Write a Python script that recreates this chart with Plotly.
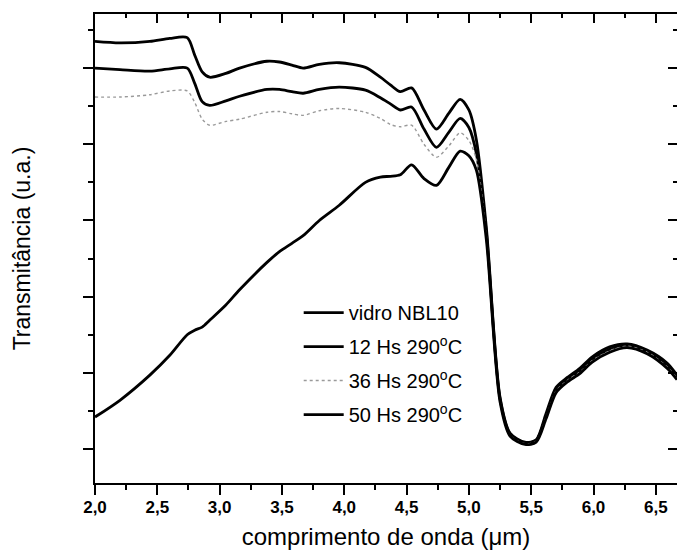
import plotly.graph_objects as go

# wavelength (µm)
wavelength = [2.00, 2.20, 2.44, 2.60, 2.74, 2.80, 2.86, 2.92, 3.05, 3.16, 3.38, 3.48, 3.58, 3.67,
              3.80, 3.96, 4.17, 4.29, 4.37, 4.45, 4.54, 4.64, 4.74, 4.84, 4.93, 5.00, 5.06, 5.14,
              5.25, 5.33, 5.45, 5.54, 5.62, 5.70, 5.79, 5.89, 5.99, 6.13, 6.27, 6.43, 6.59, 6.67]

vidro_nbl10 = [5.35, 5.33, 5.35, 5.39, 5.40, 5.17, 4.95, 4.88, 4.93, 5.00, 5.09, 5.08, 5.04, 5.00,
               5.05, 5.07, 5.01, 4.88, 4.78, 4.69, 4.74, 4.45, 4.20, 4.41, 4.59, 4.45, 4.06, 2.91,
               0.68, 0.21, 0.09, 0.12, 0.47, 0.81, 0.94, 1.06, 1.21, 1.34, 1.38, 1.30, 1.13, 0.97]

h12 = [5.00, 4.98, 4.96, 4.99, 5.00, 4.80, 4.56, 4.51, 4.57, 4.63, 4.72, 4.72, 4.69, 4.67,
       4.72, 4.75, 4.71, 4.61, 4.53, 4.45, 4.49, 4.20, 3.96, 4.16, 4.34, 4.22, 3.88, 2.85,
       0.66, 0.20, 0.08, 0.11, 0.44, 0.78, 0.92, 1.03, 1.18, 1.31, 1.36, 1.28, 1.10, 0.95]

h36 = [4.62, 4.62, 4.65, 4.70, 4.70, 4.55, 4.33, 4.25, 4.30, 4.33, 4.42, 4.43, 4.40, 4.38,
       4.44, 4.47, 4.42, 4.34, 4.26, 4.23, 4.25, 4.00, 3.83, 3.98, 4.15, 4.05, 3.80, 2.80,
       0.64, 0.18, 0.07, 0.10, 0.42, 0.76, 0.90, 1.01, 1.16, 1.29, 1.35, 1.27, 1.08, 0.93]

h50 = [0.42, 0.64, 0.97, 1.23, 1.50, 1.56, 1.60, 1.69, 1.89, 2.09, 2.45, 2.59, 2.70, 2.80,
       3.00, 3.20, 3.50, 3.57, 3.58, 3.60, 3.73, 3.55, 3.46, 3.70, 3.91, 3.85, 3.66, 2.75,
       0.62, 0.17, 0.06, 0.09, 0.40, 0.74, 0.88, 0.99, 1.14, 1.27, 1.33, 1.25, 1.06, 0.91]

series_names = ["vidro NBL10", "12 Hs 290<sup>o</sup>C", "36 Hs 290<sup>o</sup>C", "50 Hs 290<sup>o</sup>C"]
series_values = [vidro_nbl10, h12, h36, h50]
series_colors = ["#000000", "#000000", "#9a9a9a", "#000000"]
series_dash = ["solid", "solid", "dot", "solid"]
series_width = [2.8, 2.8, 1.4, 2.8]

x_range = [2.0, 6.67]
y_range = [-0.446, 5.71]

fig = go.Figure()
for i, (name, vals) in enumerate(zip(series_names, series_values)):
    fig.add_trace(go.Scatter(
        x=wavelength, y=vals, mode="lines", name=name, legendgroup=f"g{i}",
        line=dict(color=series_colors[i], width=series_width[i], dash=series_dash[i],
                  shape="spline", smoothing=0.8),
    ))

# empty trace to activate mirrored top/right axes
fig.add_trace(go.Scatter(x=[], y=[], xaxis="x2", yaxis="y2", showlegend=False, hoverinfo="skip"))

font_family = "Liberation Sans, Arial, sans-serif"

fig.update_layout(
    width=677, height=559,
    margin=dict(l=95, r=0, t=14, b=76, autoexpand=False),
    plot_bgcolor="white", paper_bgcolor="white",
    separators=",.",
    font=dict(family=font_family, color="black"),
    showlegend=True,
    legend=dict(x=0.35, y=0.405, xanchor="left", yanchor="top",
                font=dict(size=20, family=font_family, color="black"),
                bgcolor="rgba(0,0,0,0)", tracegroupgap=5, itemwidth=40),
    xaxis=dict(range=x_range, dtick=0.5, tick0=2.0, tickformat=".1f", automargin=False,
               showgrid=False, zeroline=False,
               showline=True, linecolor="black", linewidth=2,
               ticks="outside", ticklen=10, tickwidth=2, tickcolor="black",
               ticklabelstandoff=-2,
               minor=dict(dtick=0.25, ticks="outside", ticklen=5, tickwidth=2, tickcolor="black"),
               tickfont=dict(size=17, family=font_family, weight="bold"),
               title=dict(text="comprimento de onda (\u03bcm)", font=dict(size=24), standoff=12)),
    yaxis=dict(range=y_range, dtick=1, tick0=0, showticklabels=False, automargin=False,
               showgrid=False, zeroline=False,
               showline=True, linecolor="black", linewidth=2,
               ticks="outside", ticklen=10, tickwidth=2, tickcolor="black",
               minor=dict(dtick=0.5, ticks="outside", ticklen=5, tickwidth=2, tickcolor="black"),
               title=dict(text="Transmit\u00e2ncia (u.a.)", font=dict(size=23), standoff=46)),
    xaxis2=dict(range=x_range, overlaying="x", side="top", anchor="y", dtick=0.5, tick0=2.0,
                showticklabels=False, showgrid=False, zeroline=False, automargin=False,
                showline=True, linecolor="black", linewidth=2,
                ticks="inside", ticklen=9, tickwidth=2, tickcolor="black",
                minor=dict(dtick=0.25, ticks="inside", ticklen=4, tickwidth=2, tickcolor="black")),
    yaxis2=dict(range=y_range, overlaying="y", side="right", anchor="x", dtick=1, tick0=0,
                showticklabels=False, showgrid=False, zeroline=False, automargin=False,
                showline=True, linecolor="black", linewidth=2,
                ticks="inside", ticklen=9, tickwidth=2, tickcolor="black",
                minor=dict(dtick=0.5, ticks="inside", ticklen=4, tickwidth=2, tickcolor="black")),
)

fig.write_html("out.html", config={"displayModeBar": False},
               post_script="document.body.style.margin='0';document.body.style.overflow='hidden';")
